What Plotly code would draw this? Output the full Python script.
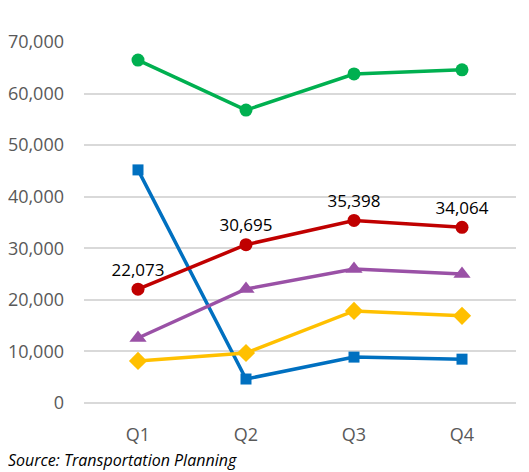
import plotly.graph_objects as go

quarters = ["Q1", "Q2", "Q3", "Q4"]
green_vals = [66500, 56800, 63800, 64600]
red_vals = [22073, 30695, 35398, 34064]
blue_vals = [45200, 4650, 8900, 8500]
purple_vals = [12600, 22100, 26000, 25000]
yellow_vals = [8150, 9700, 17850, 16900]
red_labels = ["22,073", "30,695", "35,398", "34,064"]
y_ticks = [0, 10000, 20000, 30000, 40000, 50000, 60000, 70000]
y_tick_text = ["0", "10,000", "20,000", "30,000", "40,000", "50,000", "60,000", "70,000"]

FONT = "Open Sans, Liberation Sans, sans-serif"
fig = go.Figure()

def add(vals, color, symbol, size, text=None):
    fig.add_trace(go.Scatter(
        x=quarters, y=vals, mode="lines+markers" + ("+text" if text else ""),
        line=dict(color=color, width=3.5),
        marker=dict(color=color, symbol=symbol, size=size),
        text=text, textposition="top center",
        textfont=dict(family=FONT, size=17, color="#000000"),
        cliponaxis=False, showlegend=False,
    ))

add(green_vals, "#00B050", "circle", 13)
add(blue_vals, "#0070C0", "square", 11)
add(yellow_vals, "#FFC000", "diamond", 14)
add(purple_vals, "#9A51A6", "triangle-up", 15)
add(red_vals, "#C00000", "circle", 13, red_labels)

fig.update_layout(
    width=521, height=464,
    margin=dict(l=76, r=13, t=34, b=69, autoexpand=False),
    paper_bgcolor="white", plot_bgcolor="white",
    font=dict(family=FONT, color="#595959", size=17),
    xaxis=dict(range=[-0.5, 3.5], showgrid=False, showline=False, ticks="",
               ticklabelstandoff=19, tickfont=dict(size=18, color="#595959")),
    yaxis=dict(range=[0, 70000], tickvals=y_ticks, ticktext=y_tick_text,
               showgrid=True, gridcolor="#D9D9D9", gridwidth=1.5,
               zeroline=True, zerolinecolor="#D9D9D9", zerolinewidth=1.5,
               ticks="", ticklabelstandoff=19, tickfont=dict(size=18, color="#595959")),
    annotations=[dict(text="<i>Source: Transportation Planning</i>", xref="paper", yref="paper",
                      x=-78/432, y=-57/361, xanchor="left", yanchor="middle", showarrow=False,
                      font=dict(family=FONT, size=16, color="#000000"))],
)

fig.write_html("out.html")
